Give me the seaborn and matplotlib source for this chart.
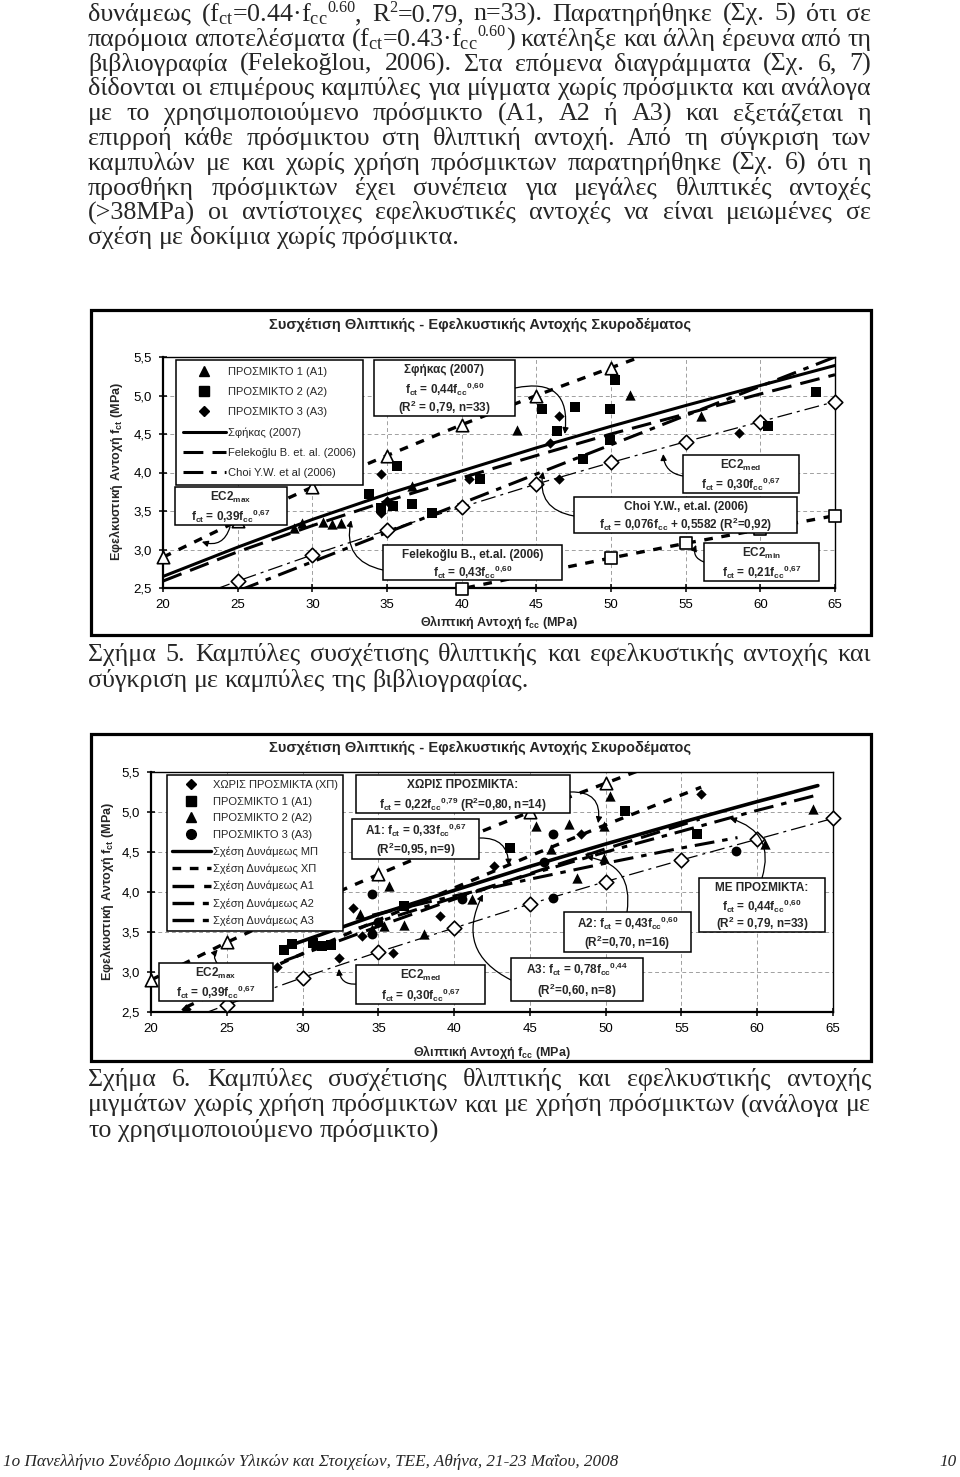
import re
import matplotlib
matplotlib.use("Agg")
import matplotlib.pyplot as plt
from matplotlib.lines import Line2D
from matplotlib.patches import Rectangle
import numpy as np
import seaborn as sns

sns.set_style("ticks")
plt.rcParams["font.family"] = ["Liberation Sans", "DejaVu Sans"]
plt.rcParams["mathtext.default"] = "regular"

# ---------------- data ----------------
x_ticks = [20, 25, 30, 35, 40, 45, 50, 55, 60, 65]
x_tick_labels = ["20", "25", "30", "35", "40", "45", "50", "55", "60", "65"]
y_ticks = [2.5, 3.0, 3.5, 4.0, 4.5, 5.0, 5.5]
y_tick_labels = ["2,5", "3,0", "3,5", "4,0", "4,5", "5,0", "5,5"]

# measured specimens
a1_x = [28.8, 29.3, 30.7, 31.3, 31.9, 36.7, 43.7, 51.3, 56.0]
a1_y = [3.28, 3.35, 3.36, 3.33, 3.34, 3.82, 4.55, 5.01, 4.73]
a2_x = [33.8, 34.6, 35.4, 35.7, 36.7, 38.0, 41.2, 45.4, 46.4, 47.6, 48.1, 49.9, 49.9, 50.3, 60.5, 63.7]
a2_y = [3.72, 3.54, 3.57, 4.08, 3.59, 3.48, 3.91, 4.83, 4.54, 4.85, 4.18, 4.83, 4.42, 5.20, 4.60, 5.04]
a3_x = [34.6, 34.6, 35.0, 40.5, 45.9, 46.5, 46.5, 58.6]
a3_y = [3.98, 3.47, 3.63, 3.91, 4.38, 4.73, 3.92, 4.51]
xp_x = [22.3, 28.3, 32.4, 33.3, 33.9, 36.0, 39.1, 42.6, 48.4, 56.3]
xp_y = [2.54, 3.06, 3.17, 3.80, 3.45, 3.24, 3.70, 4.33, 4.73, 5.23]

# EC2 reference curves
ec2_x = [20, 25, 30, 35, 40, 45, 50, 55, 60, 65]
ec2max_y = [2.90, 3.37, 3.81, 4.22, 4.62, 5.00, 5.36, 5.72, 6.06, 6.39]
ec2med_y = [2.23, 2.59, 2.93, 3.25, 3.55, 3.85, 4.13, 4.40, 4.66, 4.92]
ec2min_y = [1.56, 1.81, 2.05, 2.28, 2.49, 2.69, 2.89, 3.08, 3.26, 3.44]

# literature curves (chart 1)
fit_x = [20, 25, 30, 35, 40, 45, 50, 55, 60, 65]
sfikas_y = [2.65, 3.03, 3.39, 3.72, 4.02, 4.32, 4.60, 4.87, 5.13, 5.39]
feleko_y = [2.59, 2.97, 3.31, 3.63, 3.93, 4.22, 4.50, 4.76, 5.02, 5.27]
choi_x = [20, 65]
choi_y = [2.08, 5.50]

# power-law fits (chart 2)
mp_x = [29, 35, 40, 45, 50, 55, 60, 64]
mp_y = [3.32, 3.72, 4.02, 4.32, 4.60, 4.87, 5.13, 5.33]
xpc_x = [22.3, 25, 30, 35, 40, 45, 50, 56.3]
xpc_y = [2.56, 2.80, 3.23, 3.65, 4.05, 4.45, 4.84, 5.31]
a1c_x = [28.8, 35, 40, 45, 50, 56.2]
a1c_y = [3.14, 3.57, 3.91, 4.23, 4.54, 4.91]
a2c_x = [33.7, 40, 45, 50, 55, 60, 63.7]
a2c_y = [3.55, 3.93, 4.22, 4.50, 4.76, 5.02, 5.20]
a3c_x = [34.6, 40, 45, 50, 55, 58.7]
a3c_y = [3.71, 3.95, 4.16, 4.36, 4.55, 4.68]

body_lines = [
    r"δυνάμεως (f$_{ct}$=0.44·f$_{cc}$^{0.60}, R^{2}=0.79, n=33). Παρατηρήθηκε (Σχ. 5) ότι σε",
    r"παρόμοια αποτελέσματα (f$_{ct}$=0.43·f$_{cc}$^{0.60}) κατέληξε και άλλη έρευνα από τη",
    "βιβλιογραφία (Felekoğlou, 2006). Στα επόμενα διαγράμματα (Σχ. 6, 7)",
    "δίδονται οι επιμέρους καμπύλες για μίγματα χωρίς πρόσμικτα και ανάλογα",
    "με το χρησιμοποιούμενο πρόσμικτο (A1, A2 ή A3) και εξετάζεται η",
    "επιρροή κάθε πρόσμικτου στη θλιπτική αντοχή. Από τη σύγκριση των",
    "καμπυλών με και χωρίς χρήση πρόσμικτων παρατηρήθηκε (Σχ. 6) ότι η",
    "προσθήκη πρόσμικτων έχει συνέπεια για μεγάλες θλιπτικές αντοχές",
    "(>38MPa) οι αντίστοιχες εφελκυστικές αντοχές να είναι μειωμένες σε",
    "σχέση με δοκίμια χωρίς πρόσμικτα.",
]
caption5 = ["Σχήμα 5. Καμπύλες συσχέτισης θλιπτικής και εφελκυστικής αντοχής και",
            "σύγκριση με καμπύλες της βιβλιογραφίας."]
caption6 = ["Σχήμα 6. Καμπύλες συσχέτισης θλιπτικής και εφελκυστικής αντοχής",
            "μιγμάτων χωρίς χρήση πρόσμικτων και με χρήση πρόσμικτων (ανάλογα με",
            "το χρησιμοποιούμενο πρόσμικτο)"]
footer_left = "1o Πανελλήνιο Συνέδριο Δομικών Υλικών και Στοιχείων, ΤΕΕ, Αθήνα, 21-23 Μαΐου, 2008"
footer_right = "10"
chart_title = "Συσχέτιση Θλιπτικής - Εφελκυστικής Αντοχής Σκυροδέματος"
x_label = r"Θλιπτική Αντοχή f$_{cc}$ (MPa)"
y_label = r"Εφελκυστική Αντοχή f$_{ct}$ (MPa)"

legend1_labels = ["ΠΡΟΣΜΙΚΤΟ 1 (A1)", "ΠΡΟΣΜΙΚΤΟ 2 (A2)", "ΠΡΟΣΜΙΚΤΟ 3 (A3)",
                  "Σφήκας (2007)", "Felekoğlu B. et. al. (2006)", "Choi Y.W. et al (2006)"]
legend2_labels = ["ΧΩΡΙΣ ΠΡΟΣΜΙΚΤΑ (ΧΠ)", "ΠΡΟΣΜΙΚΤΟ 1 (A1)", "ΠΡΟΣΜΙΚΤΟ 2 (A2)",
                  "ΠΡΟΣΜΙΚΤΟ 3 (A3)", "Σχέση Δυνάμεως ΜΠ", "Σχέση Δυνάμεως ΧΠ",
                  "Σχέση Δυνάμεως Α1", "Σχέση Δυνάμεως Α2", "Σχέση Δυνάμεως Α3"]

# ---------------- figure ----------------
W, H = 960, 1477
fig = plt.figure(figsize=(W / 100, H / 100), dpi=100)
fig.patch.set_facecolor("white")
renderer = fig.canvas.get_renderer()


def fx(x):
    return x / W


def fy(y):
    return 1 - y / H


SERIF = ["Liberation Serif", "DejaVu Serif"]
SANS = ["Liberation Sans", "DejaVu Sans"]

LS_LONG = (0, (6.5, 3))
LS_SHORT = (0, (2.6, 2.6))
LS_DASHDOT = (0, (6.5, 2.6, 1.8, 2.6))
LS_THIN = (0, (12, 4, 2.4, 4))


def measure(s, **kw):
    t = fig.text(0, 0, s, **kw)
    w = t.get_window_extent(renderer=renderer).width
    t.remove()
    return w


SUP_RE = re.compile(r"\^\{([^}]*)\}")


def word_parts(word, size):
    pieces = SUP_RE.split(word)
    parts = []
    for k, p in enumerate(pieces):
        if p == "":
            continue
        if k % 2 == 1:
            parts.append((p, size * 0.62, 0.36 * size * 100 / 72))
        else:
            parts.append((p, size, 0.0))
    return parts


def text_line(s, y, size, justify=True, x0=88, x1=871, **kw):
    words = s.split(" ")
    wparts = []
    ws = []
    for w in words:
        parts = word_parts(w, size)
        widths = [measure(p, fontsize=sz, **kw) for p, sz, _ in parts]
        wparts.append(list(zip(parts, widths)))
        ws.append(sum(widths))
    if justify and len(words) > 1:
        gap = (x1 - x0 - sum(ws)) / (len(words) - 1)
    else:
        gap = measure("n n", fontsize=size, **kw) - measure("nn", fontsize=size, **kw)
    x = x0
    for parts, wd in zip(wparts, ws):
        xx = x
        for (p, sz, rise), pw in parts:
            fig.text(fx(xx), fy(y - rise), p, fontsize=sz, ha="left", va="baseline", **kw)
            xx += pw
        x += wd + gap


# body text
body_size = 10 * 370 / measure(body_lines[-1], fontsize=10, family=SERIF)
for i, s in enumerate(body_lines):
    text_line(s, 21 + 24.8 * i, body_size, justify=(i < len(body_lines) - 1), family=SERIF)
for i, s in enumerate(caption5):
    text_line(s, 661 + 26 * i, body_size, justify=(i == 0), family=SERIF)
for i, s in enumerate(caption6):
    text_line(s, 1086 + 25.5 * i, body_size, justify=(i < 2), family=SERIF)

foot_size = 10 * 617 / measure(footer_left, fontsize=10, family=SERIF, style="italic")
fig.text(fx(3), fy(1466), footer_left, fontsize=foot_size, family=SERIF, style="italic",
         ha="left", va="baseline")
fig.text(fx(957), fy(1466), footer_right, fontsize=foot_size, family=SERIF, style="italic",
         ha="right", va="baseline")


def setup_axes(ax):
    ax.set_xlim(20, 65)
    ax.set_ylim(2.5, 5.5)
    ax.set_xticks(x_ticks)
    ax.set_xticklabels(x_tick_labels)
    ax.set_yticks(y_ticks)
    ax.set_yticklabels(y_tick_labels)
    ax.grid(True, color="#a0a0a0", linestyle=(0, (4, 3)), linewidth=0.7)
    ax.set_axisbelow(True)
    for s in ax.spines.values():
        s.set_visible(True)
        s.set_color("black")
        s.set_linewidth(1.0)
    ax.spines["left"].set_linewidth(1.6)
    ax.spines["bottom"].set_linewidth(1.6)
    ax.tick_params(axis="both", direction="inout", length=6, width=1.1,
                   labelsize=9.5, colors="black", pad=5)
    ax.set_xlabel("")
    ax.set_ylabel("")


def curve(ax, x, y, ls, lw=2.2):
    sns.lineplot(x=x, y=y, ax=ax, color="black", linewidth=lw, linestyle=ls,
                 estimator=None, sort=False, legend=False, zorder=3)


def points(ax, x, y, marker, s, open_marker=False):
    x = np.asarray(x, float)
    y = np.asarray(y, float)
    m = (y >= 2.44) & (y <= 5.56)
    if open_marker:
        sns.scatterplot(x=x[m], y=y[m], ax=ax, marker=marker, s=s, color="white",
                        edgecolor="black", linewidth=1.2, zorder=4, legend=False, clip_on=False)
    else:
        sns.scatterplot(x=x[m], y=y[m], ax=ax, marker=marker, s=s, color="black",
                        edgecolor="black", linewidth=0, zorder=4, legend=False)


def note_box(x0, y0, x1, y1, lines, size=8.5):
    fig.add_artist(Rectangle((fx(x0), fy(y1)), (x1 - x0) / W, (y1 - y0) / H,
                             transform=fig.transFigure, facecolor="white",
                             edgecolor="black", linewidth=1.1, zorder=5))
    h = (y1 - y0) / len(lines)
    for i, s in enumerate(lines):
        fig.text(fx((x0 + x1) / 2), fy(y0 + h * (i + 0.55)), s, ha="center", va="center",
                 fontsize=size, fontweight="bold", zorder=6)


def arrow(ax, start_px, tip, rad):
    ax.annotate("", xy=tip, xycoords="data",
                xytext=(start_px[0], H - start_px[1]), textcoords="figure pixels",
                arrowprops=dict(arrowstyle="-|>", color="black", lw=0.9,
                                mutation_scale=9, shrinkA=0, shrinkB=0,
                                connectionstyle=f"arc3,rad={rad}"),
                annotation_clip=False, zorder=6)


def frame(y0, y1):
    fig.add_artist(Rectangle((fx(91), fy(y1)), (871 - 91) / W, (y1 - y0) / H,
                             transform=fig.transFigure, facecolor="none",
                             edgecolor="black", linewidth=2.3, zorder=8))


# ================= chart 1 =================
frame(310, 635)
ax1 = fig.add_axes([fx(163), fy(588), (835 - 163) / W, (588 - 357) / H])
setup_axes(ax1)
curve(ax1, ec2_x, ec2max_y, LS_SHORT, lw=2.4)
curve(ax1, ec2_x, ec2med_y, LS_THIN, lw=0.9)
curve(ax1, ec2_x, ec2min_y, LS_SHORT, lw=2.4)
curve(ax1, fit_x, sfikas_y, "-")
curve(ax1, fit_x, feleko_y, LS_LONG)
curve(ax1, choi_x, choi_y, LS_DASHDOT)
points(ax1, ec2_x[:7], ec2max_y[:7], "^", 80, open_marker=True)
points(ax1, ec2_x, ec2med_y, "D", 55, open_marker=True)
points(ax1, ec2_x, ec2min_y, "s", 80, open_marker=True)
points(ax1, a1_x, a1_y, "^", 55)
points(ax1, a2_x, a2_y, "s", 48)
points(ax1, a3_x, a3_y, "D", 28)

h1 = [Line2D([], [], ls="none", marker="^", color="black", ms=7.5),
      Line2D([], [], ls="none", marker="s", color="black", ms=7),
      Line2D([], [], ls="none", marker="D", color="black", ms=5.5),
      Line2D([], [], color="black", lw=2.2, ls="-"),
      Line2D([], [], color="black", lw=2.2, ls=LS_LONG),
      Line2D([], [], color="black", lw=2.2, ls=LS_DASHDOT)]
leg1 = ax1.legend(h1, legend1_labels, loc="upper left", bbox_to_anchor=(fx(176), fy(360)),
                  bbox_transform=fig.transFigure, frameon=True, fancybox=False,
                  edgecolor="black", framealpha=1, borderaxespad=0, borderpad=0.6,
                  handlelength=3.9, handletextpad=0.2, labelspacing=0.92,
                  prop={"family": SANS, "size": 8})
leg1.get_frame().set_linewidth(1.1)
leg1.set_zorder(10)

fig.text(fx(480), fy(325), chart_title, ha="center", va="center", fontsize=10.5,
         fontweight="bold")
fig.text(fx(499), fy(622), x_label, ha="center", va="center", fontsize=9, fontweight="bold")
fig.text(fx(116), fy(472), y_label, ha="center", va="center", fontsize=9, fontweight="bold",
         rotation=90)

note_box(374, 360, 515, 416, ["Σφήκας (2007)", r"f$_{ct}$ = 0,44f$_{cc}{}^{0{,}60}$",
                              r"(R$^{2}$ = 0,79, n=33)"])
note_box(175, 487, 287, 525, [r"EC2$_{max}$", r"f$_{ct}$ = 0,39f$_{cc}{}^{0{,}67}$"])
note_box(383, 545, 562, 580, ["Felekoğlu B., et.al. (2006)", r"f$_{ct}$ = 0,43f$_{cc}{}^{0{,}60}$"])
note_box(683, 455, 799, 493, [r"EC2$_{med}$", r"f$_{ct}$ = 0,30f$_{cc}{}^{0{,}67}$"])
note_box(574, 497, 797, 533, ["Choi Y.W., et.al. (2006)",
                              r"f$_{ct}$ = 0,076f$_{cc}$ + 0,5582 (R$^{2}$=0,92)"])
note_box(704, 543, 819, 581, [r"EC2$_{min}$", r"f$_{ct}$ = 0,21f$_{cc}{}^{0{,}67}$"])

arrow(ax1, (515, 388), (46.9, 4.50), -0.7)
arrow(ax1, (230, 527), (22.6, 3.10), -0.5)
arrow(ax1, (383, 570), (32.6, 3.38), -0.5)
arrow(ax1, (683, 476), (53.5, 4.24), -0.4)
arrow(ax1, (574, 516), (45.45, 4.01), -0.5)
arrow(ax1, (704, 562), (55.7, 3.06), -0.5)

# ================= chart 2 =================
frame(734, 1061)
ax2 = fig.add_axes([fx(151), fy(1012), (833 - 151) / W, (1012 - 772) / H])
setup_axes(ax2)
curve(ax2, ec2_x, ec2max_y, LS_SHORT, lw=2.4)
curve(ax2, ec2_x, ec2med_y, LS_THIN, lw=0.9)
curve(ax2, xpc_x, xpc_y, LS_SHORT, lw=2.4)
curve(ax2, a1c_x, a1c_y, LS_LONG)
curve(ax2, a2c_x, a2c_y, LS_DASHDOT)
curve(ax2, a3c_x, a3c_y, LS_DASHDOT)
curve(ax2, mp_x, mp_y, "-", lw=2.6)
points(ax2, ec2_x[:7], ec2max_y[:7], "^", 80, open_marker=True)
points(ax2, ec2_x, ec2med_y, "D", 55, open_marker=True)
points(ax2, xp_x, xp_y, "D", 28)
points(ax2, a1_x, a1_y, "s", 48)
points(ax2, a2_x, a2_y, "^", 55)
points(ax2, a3_x, a3_y, "o", 50)

h2 = [Line2D([], [], ls="none", marker="D", color="black", ms=5.5),
      Line2D([], [], ls="none", marker="s", color="black", ms=7),
      Line2D([], [], ls="none", marker="^", color="black", ms=7.5),
      Line2D([], [], ls="none", marker="o", color="black", ms=7),
      Line2D([], [], color="black", lw=2.4, ls="-"),
      Line2D([], [], color="black", lw=2.4, ls=LS_SHORT),
      Line2D([], [], color="black", lw=2.4, ls=LS_LONG),
      Line2D([], [], color="black", lw=2.4, ls=LS_DASHDOT),
      Line2D([], [], color="black", lw=2.4, ls=LS_DASHDOT)]
leg2 = ax2.legend(h2, legend2_labels, loc="upper left", bbox_to_anchor=(fx(167), fy(775)),
                  bbox_transform=fig.transFigure, frameon=True, fancybox=False,
                  edgecolor="black", framealpha=1, borderaxespad=0, borderpad=0.45,
                  handlelength=3.5, handletextpad=0.2, labelspacing=0.6,
                  prop={"family": SANS, "size": 8})
leg2.get_frame().set_linewidth(1.1)
leg2.set_zorder(10)

fig.text(fx(480), fy(748), chart_title, ha="center", va="center", fontsize=10.5,
         fontweight="bold")
fig.text(fx(492), fy(1052), x_label, ha="center", va="center", fontsize=9, fontweight="bold")
fig.text(fx(107), fy(892), y_label, ha="center", va="center", fontsize=9, fontweight="bold",
         rotation=90)

note_box(356, 775, 570, 813, ["ΧΩΡΙΣ ΠΡΟΣΜΙΚΤΑ:",
                              r"f$_{ct}$ = 0,22f$_{cc}{}^{0{,}79}$ (R$^{2}$=0,80, n=14)"])
note_box(352, 819, 479, 859, [r"A1: f$_{ct}$ = 0,33f$_{cc}{}^{0{,}67}$", r"(R$^{2}$=0,95, n=9)"])
note_box(159, 963, 273, 1001, [r"EC2$_{max}$", r"f$_{ct}$ = 0,39f$_{cc}{}^{0{,}67}$"])
note_box(356, 965, 485, 1004, [r"EC2$_{med}$", r"f$_{ct}$ = 0,30f$_{cc}{}^{0{,}67}$"])
note_box(511, 958, 643, 1001, [r"A3: f$_{ct}$ = 0,78f$_{cc}{}^{0{,}44}$", r"(R$^{2}$=0,60, n=8)"])
note_box(564, 912, 691, 952, [r"A2: f$_{ct}$ = 0,43f$_{cc}{}^{0{,}60}$", r"(R$^{2}$=0,70, n=16)"])
note_box(699, 878, 825, 932, ["ΜΕ ΠΡΟΣΜΙΚΤΑ:", r"f$_{ct}$ = 0,44f$_{cc}{}^{0{,}60}$",
                              r"(R$^{2}$ = 0,79, n=33)"])

arrow(ax2, (570, 792), (49.5, 4.86), -0.6)
arrow(ax2, (480, 838), (43.6, 4.33), -0.5)
arrow(ax2, (217, 963), (24.4, 3.28), -0.4)
arrow(ax2, (357, 984), (32.4, 3.04), -0.5)
arrow(ax2, (511, 980), (41.9, 3.97), -0.5)
arrow(ax2, (627, 912), (48.7, 4.44), 0.5)
arrow(ax2, (762, 878), (58.2, 4.92), 0.5)

fig.savefig("out.png", dpi=100, facecolor="white")
